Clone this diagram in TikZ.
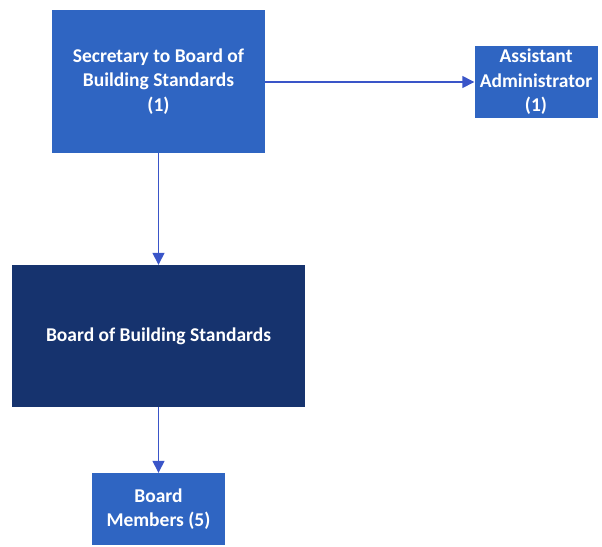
\documentclass[tikz,border=0pt]{standalone}
\usepackage{fontspec}
\setmainfont{Carlito}
\usetikzlibrary{arrows.meta}
\definecolor{unitblue}{HTML}{2F65C2}
\definecolor{boardnavy}{HTML}{16336E}
\definecolor{linkblue}{HTML}{3A55C8}
\begin{document}
\begin{tikzpicture}[x=1pt,y=-1pt,
  orgbox/.style={draw=none, text=white, align=center, inner sep=0pt,
    font=\bfseries\fontsize{19.5}{24.5}\selectfont},
  link/.style={draw=linkblue, line width=1.4pt,
    -{Triangle[length=12pt,width=12pt]}}]
\useasboundingbox (0,0) rectangle (602,546);
% boxes, given by their corners
\node[orgbox, fill=unitblue, minimum width=213pt, minimum height=143pt]
  (sec) at (158.5,81.5) {Secretary to Board of\\Building Standards\\(1)};
\node[orgbox, fill=unitblue, minimum width=123pt, minimum height=72pt]
  (asst) at (536,82) {Assistant\\Administrator\\(1)};
\node[orgbox, fill=boardnavy, minimum width=293pt, minimum height=142pt]
  (board) at (158.5,336) {Board of Building Standards};
\node[orgbox, fill=unitblue, minimum width=133pt, minimum height=72pt]
  (memb) at (158.5,509) {Board\\Members (5)};
% reporting lines
\draw[link] (sec.east |- asst.west) -- (asst.west);
\draw[link] (sec.south) -- (board.north);
\draw[link] (board.south) -- (memb.north);
\end{tikzpicture}
\end{document}
